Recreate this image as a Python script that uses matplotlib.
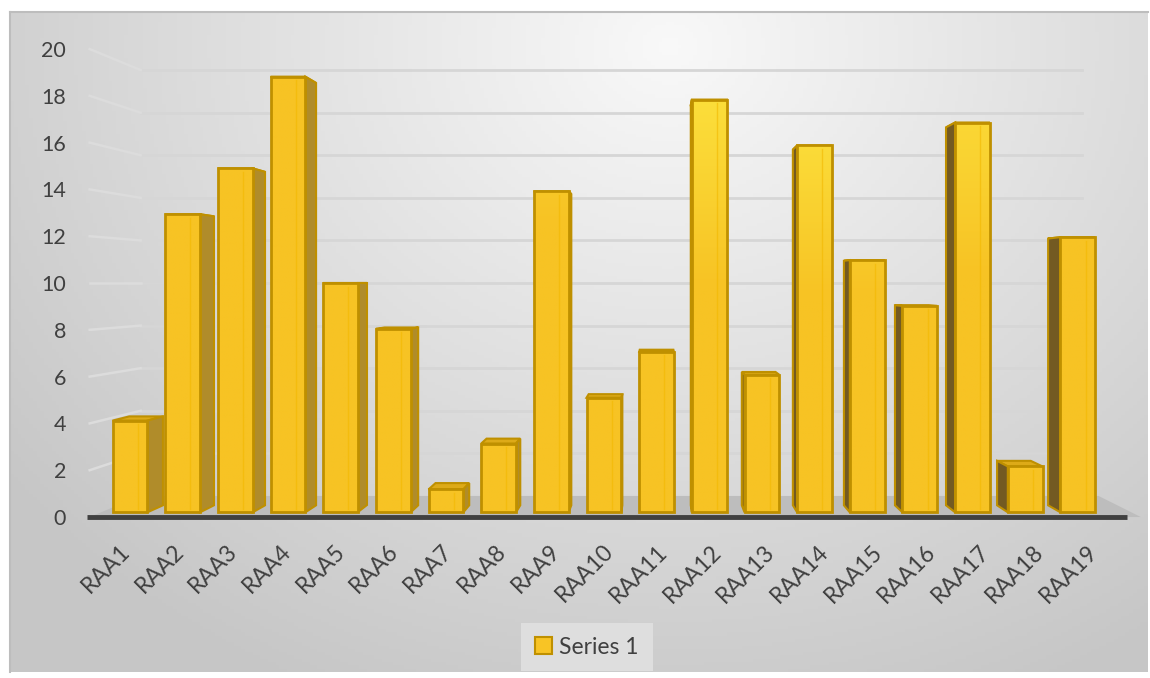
import numpy as np
import matplotlib.pyplot as plt
import matplotlib.transforms as mtransforms
from matplotlib.patches import Polygon, Rectangle, Patch

plt.rcParams['font.family'] = ['Lato', 'DejaVu Sans']

categories = ['RAA%d' % i for i in range(1, 20)]
values = [4, 13, 15, 19, 10, 8, 1, 3, 14, 5, 7, 18, 6, 16, 11, 9, 17, 2, 12]
y_ticks = list(range(0, 21, 2))
series_name = 'Series 1'

face = '#F8C425'
face_lit = np.array([254, 236, 70]) / 255
face_base = np.array([247, 195, 36]) / 255
edge = '#BF9000'
side_left = '#B08C2A'    # right side of bars left of centre
side_right = '#735A22'   # left side of bars right of centre
top_col = '#DDAA18'
text_col = '#404040'

# simple perspective: back points move toward a vanishing point
vx, vy = 10.0, 10.0
front_depth = 0.02
back_depth = 0.05
wall_depth = 0.09
bar_w = 0.66
x_lo, x_hi = -0.55, 18.71


def proj(x, y, d):
    return x + (vx - x) * d, y + (vy - y) * d


def light(x, y):
    d = np.sqrt(((x - 13.0) / 7.0) ** 2 + ((y - 21.0) / 11.0) ** 2)
    return np.clip(1.05 - d, 0, 1)


fig = plt.figure(figsize=(11.5, 6.78), dpi=100)
fig.patch.set_facecolor('white')

# background panel with soft radial gradient
bg = fig.add_axes([10 / 1150, 6 / 678, 1138 / 1150, 660 / 678])
gx, gy = np.meshgrid(np.linspace(0, 1, 300), np.linspace(0, 1, 200))
r = np.sqrt(((gx - 0.58) / 0.75) ** 2 + ((gy - 0.05) / 1.1) ** 2)
shade = np.clip(0.975 - 0.2 * r, 0.78, 0.975)
bg.imshow(np.dstack([shade] * 3), aspect='auto', extent=(0, 1, 1, 0))
bg.set_xticks([])
bg.set_yticks([])
for s in bg.spines.values():
    s.set_color('#bdbdbd')
    s.set_linewidth(1.5)
bg.spines['bottom'].set_visible(False)
bg.spines['right'].set_visible(False)

ax = fig.add_axes([77.3 / 1150, 0.2271, 1064.5 / 1150, 0.7351])
ax.set_facecolor('none')

# gridlines on back wall plus slant on side wall
for t in y_ticks[1:]:
    bx0, by0 = proj(x_lo, t, wall_depth)
    bx1, by1 = proj(x_hi, t, wall_depth)
    ax.plot([bx0, bx1], [by0, by1], color='#d6d6d6', lw=2, zorder=1)
    ax.plot([x_lo, bx0], [t, by0], color='#dcdcdc', lw=1.8, zorder=1)

# floor
p0 = proj(x_lo, 0, wall_depth)
p1 = proj(x_hi, 0, wall_depth)
ax.add_patch(Polygon([(x_lo, 0), (x_hi + 0.3, 0), (p1[0] + 0.3, p1[1]), p0],
                     closed=True, facecolor='#bdbdbd', edgecolor='none', zorder=2))
ax.plot([x_lo - 0.05, x_hi + 0.05], [0, 0], color='#404040', lw=3.5,
        solid_capstyle='butt', zorder=3)

# 3d-ish bars
for i, v in enumerate(values):
    x0, x1 = i - bar_w / 2, i + bar_w / 2
    f00 = proj(x0, 0, front_depth)
    f10 = proj(x1, 0, front_depth)
    f01 = proj(x0, v, front_depth)
    f11 = proj(x1, v, front_depth)
    b00 = proj(x0, 0, back_depth)
    b10 = proj(x1, 0, back_depth)
    b01 = proj(x0, v, back_depth)
    b11 = proj(x1, v, back_depth)
    # top face
    ax.add_patch(Polygon([f01, f11, b11, b01], closed=True,
                         facecolor=top_col, edgecolor=edge, lw=1.5, zorder=4))
    # side face
    if i < vx - 0.3:
        ax.add_patch(Polygon([f10, f11, b11, b10], closed=True,
                             facecolor=side_left, edgecolor=edge, lw=1.5, zorder=4))
    elif i > vx + 0.3:
        ax.add_patch(Polygon([f00, f01, b01, b00], closed=True,
                             facecolor=side_right, edgecolor=edge, lw=1.5, zorder=4))
    # front face with lighting gradient
    fw = f10[0] - f00[0]
    fh = f01[1] - f00[1]
    ys = np.linspace(f00[1], f01[1], 60)
    t = light(i, ys)[:, None]
    grad = (face_base * (1 - t) + face_lit * t)[:, None, :]
    rect = Rectangle(f00, fw, fh, facecolor='none', edgecolor=edge, lw=2, zorder=6)
    ax.add_patch(rect)
    im = ax.imshow(grad, extent=(f00[0], f10[0], f00[1], f01[1]), origin='lower',
                   aspect='auto', zorder=5, interpolation='bilinear')
    im.set_clip_path(rect)
    # faint inner edge showing through
    ax.plot([f00[0] + fw * 0.72] * 2, [f00[1] + 0.15, f01[1] - 0.15],
            color='#F2B800', lw=1, alpha=0.6, zorder=6)

ax.set_xlim(-0.78, 19.03)
ax.set_ylim(-0.3, 21)

ax.set_xticks(range(len(categories)))
ax.set_xticklabels(categories, rotation=45, ha='right', va='top',
                   rotation_mode='anchor', fontsize=16.5, color=text_col)
shift = mtransforms.ScaledTranslation(-18 / 100, 2 / 100, fig.dpi_scale_trans)
for lab in ax.get_xticklabels():
    lab.set_transform(lab.get_transform() + shift)
ax.set_yticks(y_ticks)
ax.set_yticklabels([str(t) for t in y_ticks], fontsize=15.5, color=text_col)
ax.tick_params(length=0)
ax.tick_params(axis='x', pad=12)
ax.tick_params(axis='y', pad=8)
for s in ax.spines.values():
    s.set_visible(False)

handle = Patch(facecolor=face, edgecolor=edge, lw=1.5)
leg = fig.legend([handle], [series_name], loc='center',
                 bbox_to_anchor=(587 / 1150, 31 / 678), fontsize=16.5,
                 frameon=True, fancybox=False, handlelength=0.75, handleheight=0.75,
                 handletextpad=0.3, borderpad=0.6)
leg.get_frame().set_facecolor('#e3e3e3')
leg.get_frame().set_edgecolor('none')
for t in leg.get_texts():
    t.set_color(text_col)

fig.savefig('out.png', dpi=100)
